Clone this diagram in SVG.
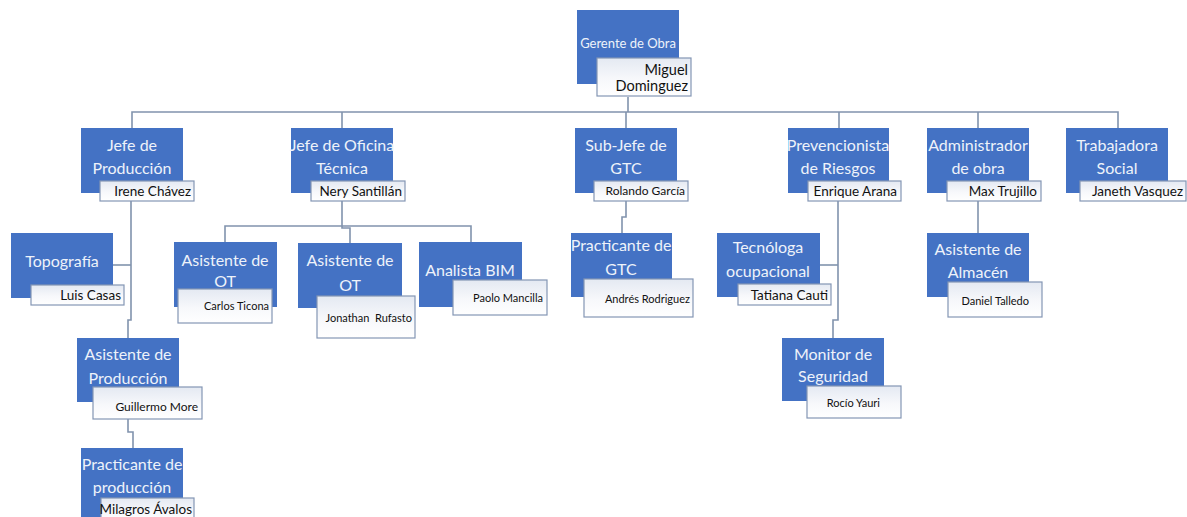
<svg xmlns="http://www.w3.org/2000/svg" width="1187" height="517" viewBox="0 0 1187 517">
  <defs>
    <linearGradient id="nameFill" x1="0" y1="0" x2="0" y2="1">
      <stop offset="0" stop-color="#e4e9f2"/>
      <stop offset="0.55" stop-color="#f7f8fb"/>
      <stop offset="1" stop-color="#ffffff"/>
    </linearGradient>
    <style>
      .role { fill: #4472c4; }
      .name { fill: url(#nameFill); stroke: #8496b4; stroke-width: 1.2; }
      .title { font-family: Lato, "Liberation Sans", sans-serif; font-size: 16px; fill: #eef2fa; text-anchor: middle; }
      .person { font-family: Lato, "Liberation Sans", sans-serif; font-size: 13.5px; fill: #111111; text-anchor: end; }
      .small { font-size: 11px; }
      .mid { font-size: 12px; }
      .big { font-size: 14.5px; }
      .links path { fill: none; stroke: #8193ad; stroke-width: 1.6; }
    </style>
  </defs>
  <rect width="1187" height="517" fill="#ffffff"/>

  <!-- connectors -->
  <g class="links">
    <path d="M628 97 V112"/>
    <path d="M132 128 V112 H1118 V128"/>
    <path d="M342 112 V128"/>
    <path d="M626 112 V128"/>
    <path d="M839 112 V128"/>
    <path d="M978 112 V128"/>
    <!-- Jefe de Producción branch -->
    <path d="M131 201 V320 H128 V338"/>
    <path d="M113 265 H131"/>
    <path d="M128 419 V432 H133 V448"/>
    <!-- Jefe de Oficina Técnica branch -->
    <path d="M342 201 V228 H350 V243"/>
    <path d="M225 242 V226 H471 V242"/>
    <!-- Sub-Jefe de GTC branch -->
    <path d="M626 201 V217 H622 V233"/>
    <!-- Prevencionista branch -->
    <path d="M838 201 V320 H833 V338"/>
    <path d="M820 265 H838"/>
    <!-- Administrador branch -->
    <path d="M978 201 V233"/>
  </g>

  <!-- top -->
  <g id="gerente">
    <rect class="role" x="577" y="10" width="102" height="74"/>
    <text class="title" x="628" y="48" style="font-size:13px">Gerente de Obra</text>
    <rect class="name" x="597" y="58" width="94" height="38"/>
    <text class="person big" x="688" y="75">Miguel</text>
    <text class="person big" x="688" y="91">Dominguez</text>
  </g>

  <!-- first level -->
  <g id="jefe-produccion">
    <rect class="role" x="81" y="128" width="102" height="65"/>
    <text class="title" x="132" y="151">Jefe de</text>
    <text class="title" x="132" y="174">Producción</text>
    <rect class="name" x="100" y="181" width="94" height="20"/>
    <text class="person" x="191" y="196">Irene Chávez</text>
  </g>

  <g id="jefe-oficina-tecnica">
    <rect class="role" x="291" y="128" width="102" height="65"/>
    <text class="title" x="342" y="151">Jefe de Oficina</text>
    <text class="title" x="342" y="174">Técnica</text>
    <rect class="name" x="311" y="181" width="94" height="20"/>
    <text class="person" x="402" y="196">Nery Santillán</text>
  </g>

  <g id="subjefe-gtc">
    <rect class="role" x="575" y="128" width="102" height="65"/>
    <text class="title" x="626" y="151">Sub-Jefe de</text>
    <text class="title" x="626" y="174">GTC</text>
    <rect class="name" x="594" y="181" width="94" height="20"/>
    <text class="person mid" x="685" y="195">Rolando García</text>
  </g>

  <g id="prevencionista">
    <rect class="role" x="788" y="128" width="101" height="65"/>
    <text class="title" x="838" y="151">Prevencionista</text>
    <text class="title" x="838" y="174">de Riesgos</text>
    <rect class="name" x="808" y="181" width="93" height="20"/>
    <text class="person" x="897" y="196">Enrique Arana</text>
  </g>

  <g id="administrador">
    <rect class="role" x="927" y="128" width="102" height="65"/>
    <text class="title" x="978" y="151">Administrador</text>
    <text class="title" x="978" y="174">de obra</text>
    <rect class="name" x="947" y="181" width="94" height="20"/>
    <text class="person" x="1037" y="196">Max Trujillo</text>
  </g>

  <g id="trabajadora-social">
    <rect class="role" x="1066" y="128" width="102" height="65"/>
    <text class="title" x="1117" y="151">Trabajadora</text>
    <text class="title" x="1117" y="174">Social</text>
    <rect class="name" x="1080" y="181" width="106" height="20"/>
    <text class="person" x="1183" y="196">Janeth Vasquez</text>
  </g>

  <!-- second level -->
  <g id="topografia">
    <rect class="role" x="11" y="233" width="102" height="65"/>
    <text class="title" x="62" y="267">Topografía</text>
    <rect class="name" x="31" y="285" width="93" height="20"/>
    <text class="person" x="121" y="300">Luis Casas</text>
  </g>

  <g id="asistente-produccion">
    <rect class="role" x="77" y="338" width="102" height="64"/>
    <text class="title" x="128" y="360">Asistente de</text>
    <text class="title" x="128" y="384">Producción</text>
    <rect class="name" x="93" y="387" width="109" height="32"/>
    <text class="person mid" x="198" y="411">Guillermo More</text>
  </g>

  <g id="practicante-produccion">
    <rect class="role" x="81" y="448" width="102" height="75"/>
    <text class="title" x="132" y="470">Practicante de</text>
    <text class="title" x="132" y="493">producción</text>
    <rect class="name" x="101" y="498" width="93" height="25"/>
    <text class="person" x="192" y="514">Milagros Ávalos</text>
  </g>

  <g id="asistente-ot-1">
    <rect class="role" x="174" y="242" width="103" height="65"/>
    <text class="title" x="225" y="266">Asistente de</text>
    <text class="title" x="225" y="287">OT</text>
    <rect class="name" x="178" y="289" width="94" height="34"/>
    <text class="person small" x="269" y="310">Carlos Ticona</text>
  </g>

  <g id="asistente-ot-2">
    <rect class="role" x="298" y="243" width="104" height="65"/>
    <text class="title" x="350" y="266">Asistente de</text>
    <text class="title" x="350" y="291">OT</text>
    <rect class="name" x="317" y="296" width="98" height="42"/>
    <text class="person small" x="412" y="322" xml:space="preserve">Jonathan  Rufasto</text>
  </g>

  <g id="analista-bim">
    <rect class="role" x="419" y="242" width="103" height="65"/>
    <text class="title" x="470" y="276">Analista BIM</text>
    <rect class="name" x="453" y="280" width="94" height="35"/>
    <text class="person small" x="543" y="302">Paolo Mancilla</text>
  </g>

  <g id="practicante-gtc">
    <rect class="role" x="571" y="233" width="101" height="64"/>
    <text class="title" x="621" y="251">Practicante de</text>
    <text class="title" x="621" y="275">GTC</text>
    <rect class="name" x="584" y="279" width="109" height="38"/>
    <text class="person small" x="690" y="303">Andrés Rodriguez</text>
  </g>

  <g id="tecnologa-ocupacional">
    <rect class="role" x="717" y="233" width="103" height="64"/>
    <text class="title" x="768" y="253">Tecnóloga</text>
    <text class="title" x="768" y="277">ocupacional</text>
    <rect class="name" x="738" y="284" width="93" height="21"/>
    <text class="person" x="828" y="300">Tatiana Cauti</text>
  </g>

  <g id="monitor-seguridad">
    <rect class="role" x="782" y="338" width="102" height="63"/>
    <text class="title" x="833" y="360">Monitor de</text>
    <text class="title" x="833" y="382">Seguridad</text>
    <rect class="name" x="807" y="386" width="94" height="32"/>
    <text class="person small" x="880" y="407">Rocío Yauri</text>
  </g>

  <g id="asistente-almacen">
    <rect class="role" x="927" y="233" width="102" height="64"/>
    <text class="title" x="978" y="255">Asistente de</text>
    <text class="title" x="978" y="278">Almacén</text>
    <rect class="name" x="948" y="282" width="94" height="35"/>
    <text class="person small" x="1029" y="305">Daniel Talledo</text>
  </g>
</svg>
